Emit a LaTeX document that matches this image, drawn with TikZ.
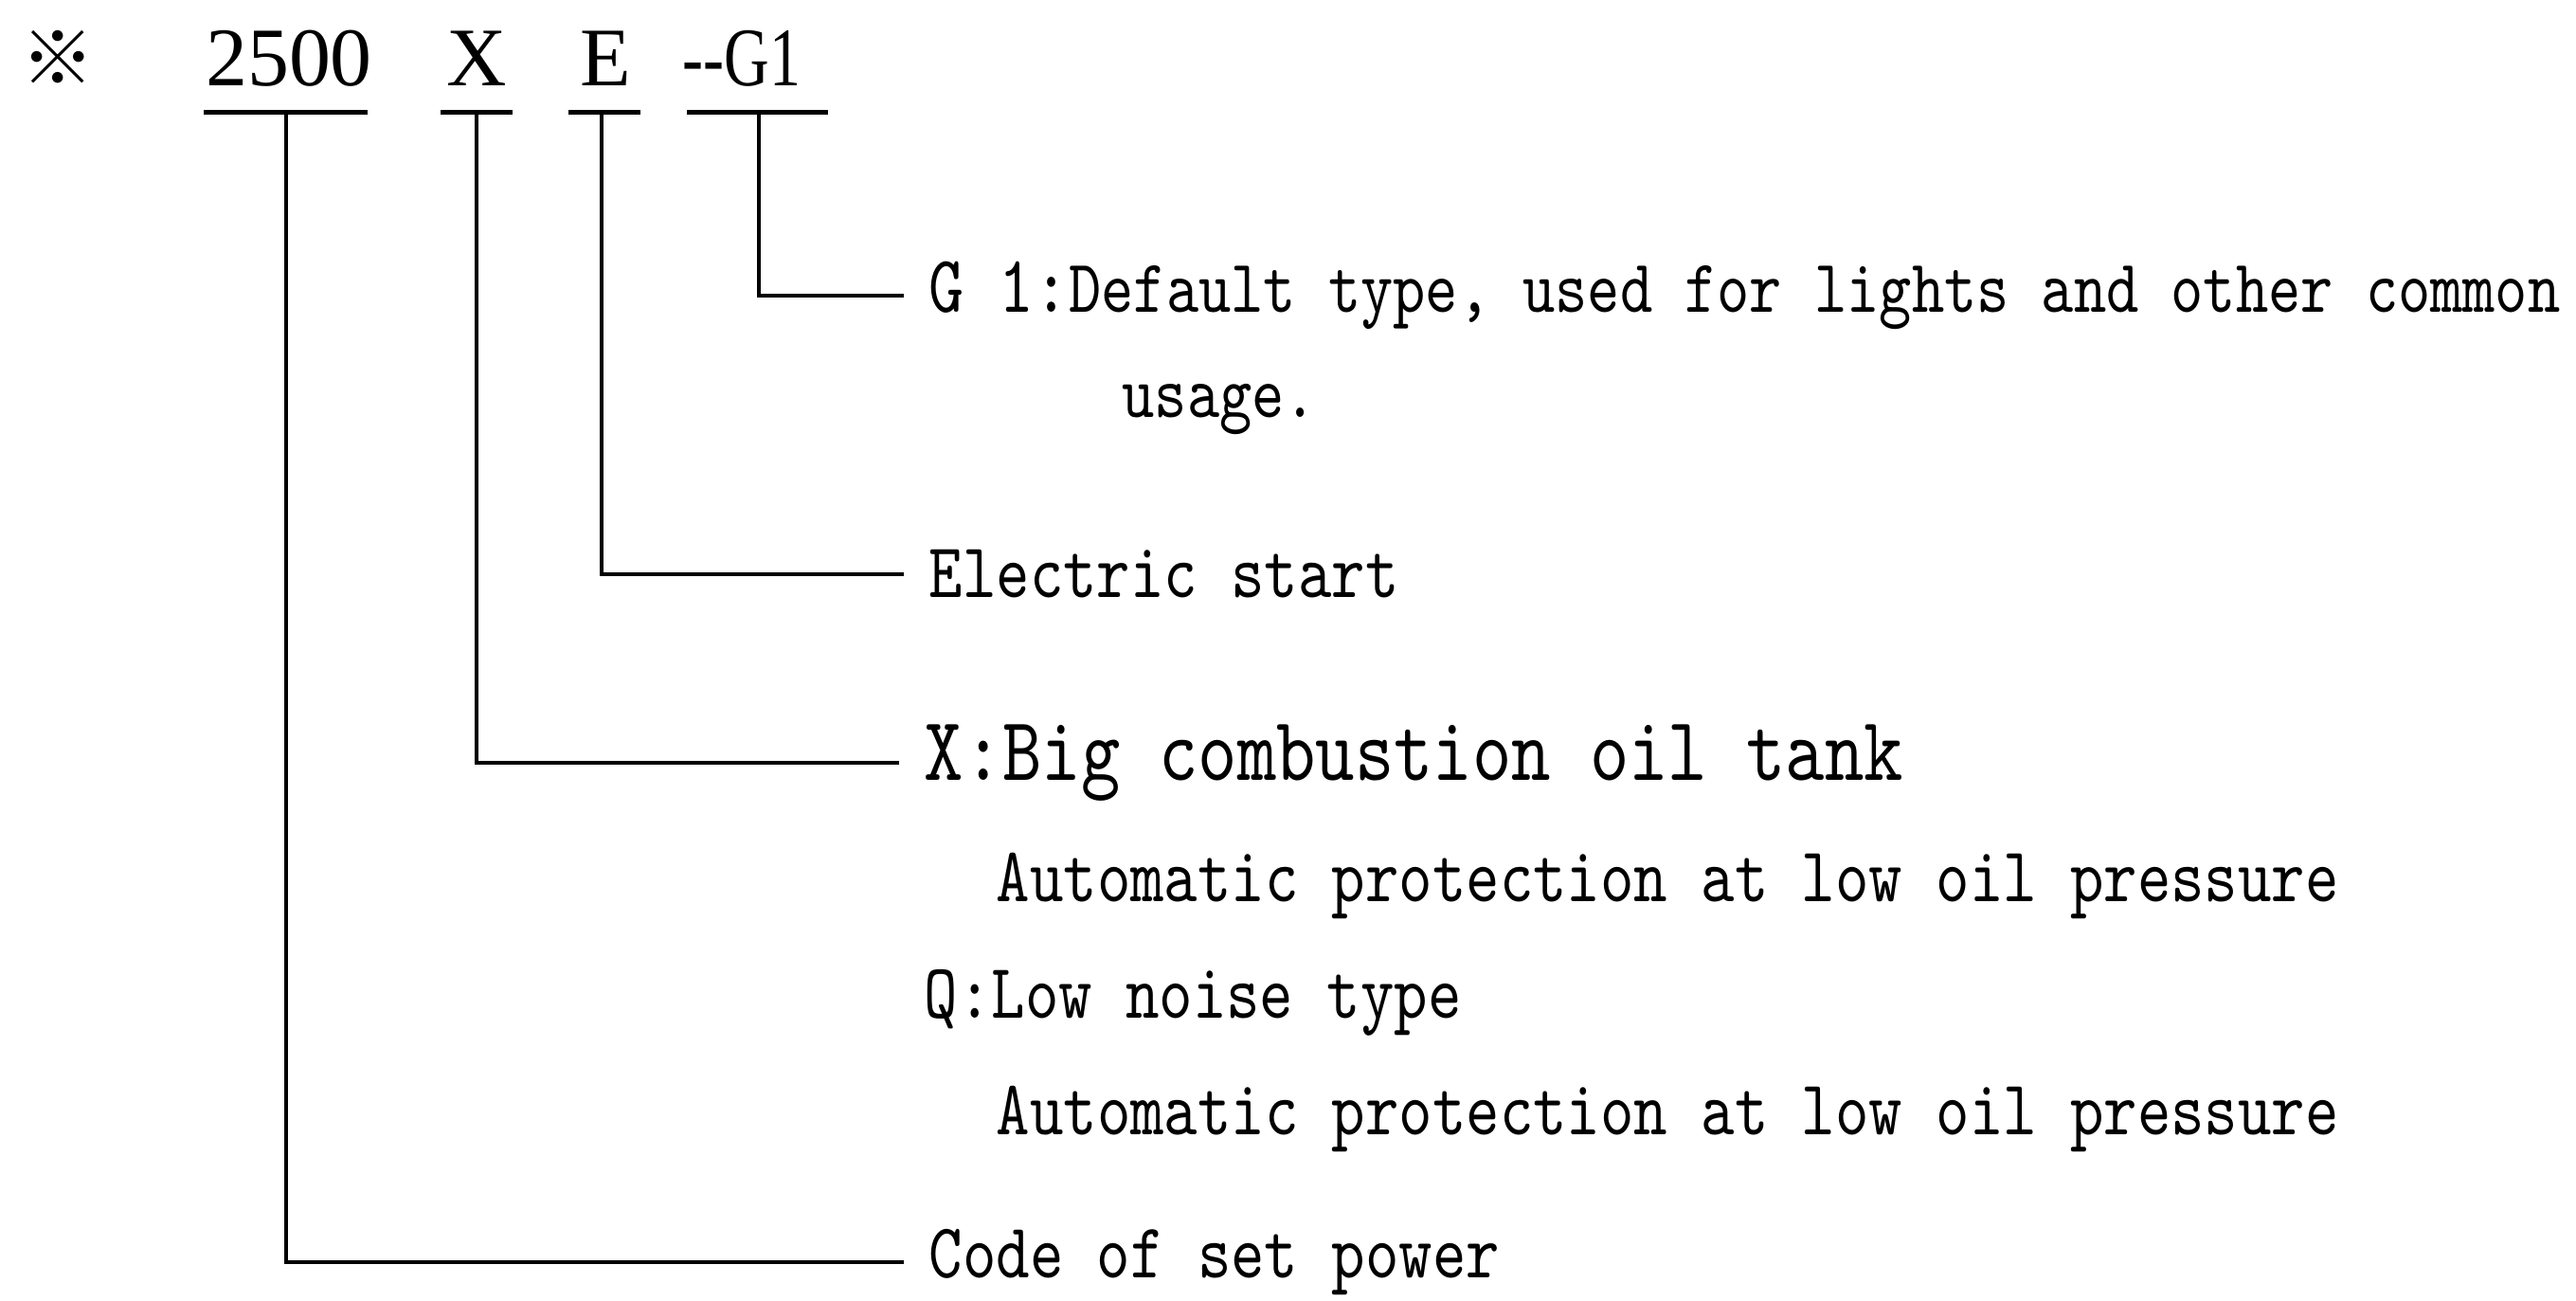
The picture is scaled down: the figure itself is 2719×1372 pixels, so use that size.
\documentclass[tikz,border=0pt]{standalone}
\usepackage{fontspec}
\setmainfont{Liberation Serif}
\newfontfamily\monof[FakeStretch=0.82]{lmmono10-regular.otf}
\newfontfamily\titlef[Ligatures=NoCommon]{Liberation Serif}
\newfontfamily\titlenarrow[Ligatures=NoCommon,FakeStretch=0.75]{Liberation Serif}
\newfontfamily\cjkf{Noto Sans CJK SC}
\begin{document}
\begin{tikzpicture}[x=0.01cm,y=-0.01cm,
  code/.style={inner sep=0pt,anchor=base,font=\titlef\fontsize{25}{30}\selectfont},
  lab/.style={inner ysep=0pt,inner xsep=0.26cm,anchor=west,font=\monof\fontsize{23.4}{28}\selectfont},
  sub/.style={inner sep=0pt,anchor=west,font=\monof\fontsize{23.4}{28}\selectfont},
  uline/.style={line width=0.05cm},
  conn/.style={line width=0.035cm}]
\path[use as bounding box,fill=white] (0,0) rectangle (2719,1372);
% header
\node[inner sep=0pt,font=\cjkf\fontsize{22}{26}\selectfont] (ref) at (61,61) {※};
\node[code] (t2500) at (305,90) {2500};
\node[code] (tX) at (503,90) {X};
\node[code] (tE) at (639,90) {E};
\node[code,font=\titlenarrow\fontsize{25}{30}\selectfont] (tG) at (783,90) {-{}-G1};
% underlines
\draw[uline] (215,118) -- (388,118);
\draw[uline] (465,118) -- (541,118);
\draw[uline] (600,118) -- (676,118);
\draw[uline] (725,118) -- (874,118);
\coordinate (u2500) at (302,118);
\coordinate (uX) at (503,118);
\coordinate (uE) at (635,118);
\coordinate (uG) at (801,118);
% labels
\node[lab] (gl) at (954,312) {{\fontsize{24.4}{29}\selectfont G 1:}{\fontsize{22.6}{27}\selectfont Default type, used for lights and other common}};
\node[sub,font=\monof\fontsize{22.6}{27}\selectfont] (usage) at (1184,432) {usage.};
\node[lab] (el) at (954,606) {Electric start};
\node[lab,font=\monof\fontsize{27.3}{33}\selectfont] (xl) at (949,805) {X:Big combustion oil tank};
\node[sub] (auto1) at (1051,935) {Automatic protection at low oil pressure};
\node[sub] (ql) at (975,1058) {Q:Low noise type};
\node[sub] (auto2) at (1051,1181) {Automatic protection at low oil pressure};
\node[lab] (cl) at (954,1332) {Code of set power};
% connectors
\draw[conn] (uG) |- (gl.west);
\draw[conn] (uE) |- (el.west);
\draw[conn] (uX) |- (xl.west);
\draw[conn] (u2500) |- (cl.west);
\end{tikzpicture}
\end{document}
